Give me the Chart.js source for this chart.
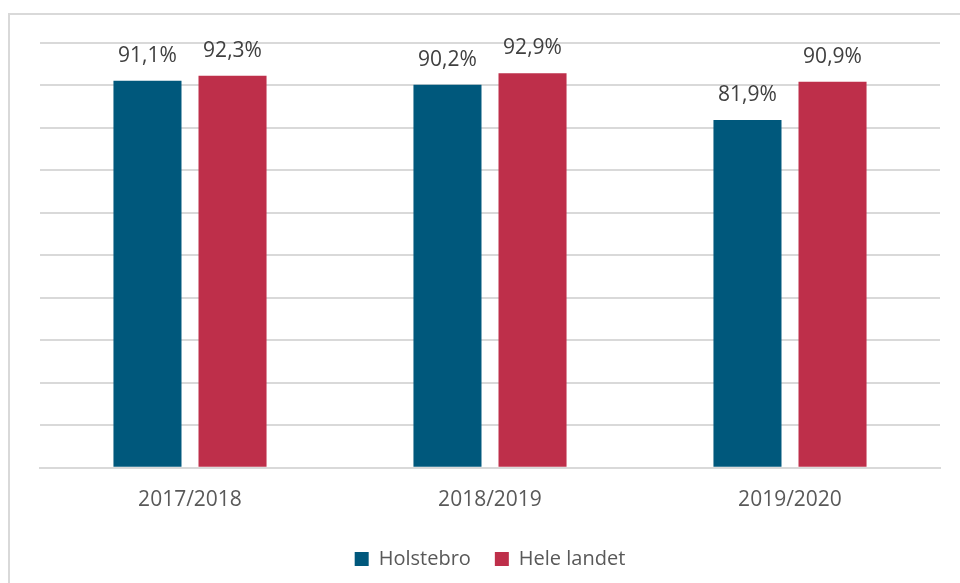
<!DOCTYPE html>
<html>
<head>
<meta charset="utf-8">
<script src="https://cdn.jsdelivr.net/npm/chart.js@4/dist/chart.umd.min.js"></script>
<style>
  html, body { margin: 0; padding: 0; background: #fff; }
  #wrap { position: relative; width: 960px; height: 583px; overflow: hidden; }
  #frame { position: absolute; left: 8px; top: 13px; width: 1000px; height: 1000px;
           border-left: 2px solid #d9d9d9; border-top: 2px solid #d9d9d9; }
  canvas { position: absolute; left: 0; top: 0; }
</style>
</head>
<body>
<div id="wrap">
  <div id="frame"></div>
  <canvas id="c" width="960" height="583"></canvas>
</div>
<script>
const categories = ['2017/2018', '2018/2019', '2019/2020'];
const holstebro = [91.1, 90.2, 81.9];
const heleLandet = [92.3, 92.9, 90.9];
const seriesNames = ['Holstebro', 'Hele landet'];

const FONT = "'Open Sans', 'Liberation Sans', sans-serif";

const valueLabels = {
  id: 'valueLabels',
  afterDatasetsDraw(chart) {
    const ctx = chart.ctx;
    ctx.save();
    ctx.font = '21px ' + FONT;
    ctx.fillStyle = '#404040';
    ctx.textAlign = 'center';
    ctx.textBaseline = 'alphabetic';
    chart.data.datasets.forEach((ds, i) => {
      chart.getDatasetMeta(i).data.forEach((bar, j) => {
        const txt = ds.data[j].toFixed(1).replace('.', ',') + '%';
        ctx.fillText(txt, bar.x, bar.y - 19);
      });
    });
    ctx.restore();
  }
};

new Chart(document.getElementById('c'), {
  type: 'bar',
  data: {
    labels: categories,
    datasets: [
      { label: seriesNames[0], data: holstebro, backgroundColor: '#00587c' },
      { label: seriesNames[1], data: heleLandet, backgroundColor: '#be2f4a' }
    ]
  },
  options: {
    responsive: false,
    animation: false,
    devicePixelRatio: 1,
    categoryPercentage: 0.567,
    barPercentage: 0.8,
    layout: { padding: { left: 40, right: 20, top: 43, bottom: 4 } },
    plugins: {
      tooltip: { enabled: false },
      legend: {
        position: 'bottom',
        labels: {
          boxWidth: 14, boxHeight: 14, padding: 24,
          color: '#595959',
          font: { family: FONT, size: 20 }
        }
      }
    },
    scales: {
      x: {
        grid: { display: false },
        border: { display: true, color: '#d9d9d9', width: 2 },
        ticks: { color: '#595959', font: { family: FONT, size: 21 }, padding: 12 }
      },
      y: {
        min: 0, max: 100,
        ticks: { display: false, stepSize: 10 },
        border: { display: false },
        grid: { color: '#d9d9d9', lineWidth: 2, drawTicks: false }
      }
    }
  },
  plugins: [valueLabels]
});
</script>
</body>
</html>
